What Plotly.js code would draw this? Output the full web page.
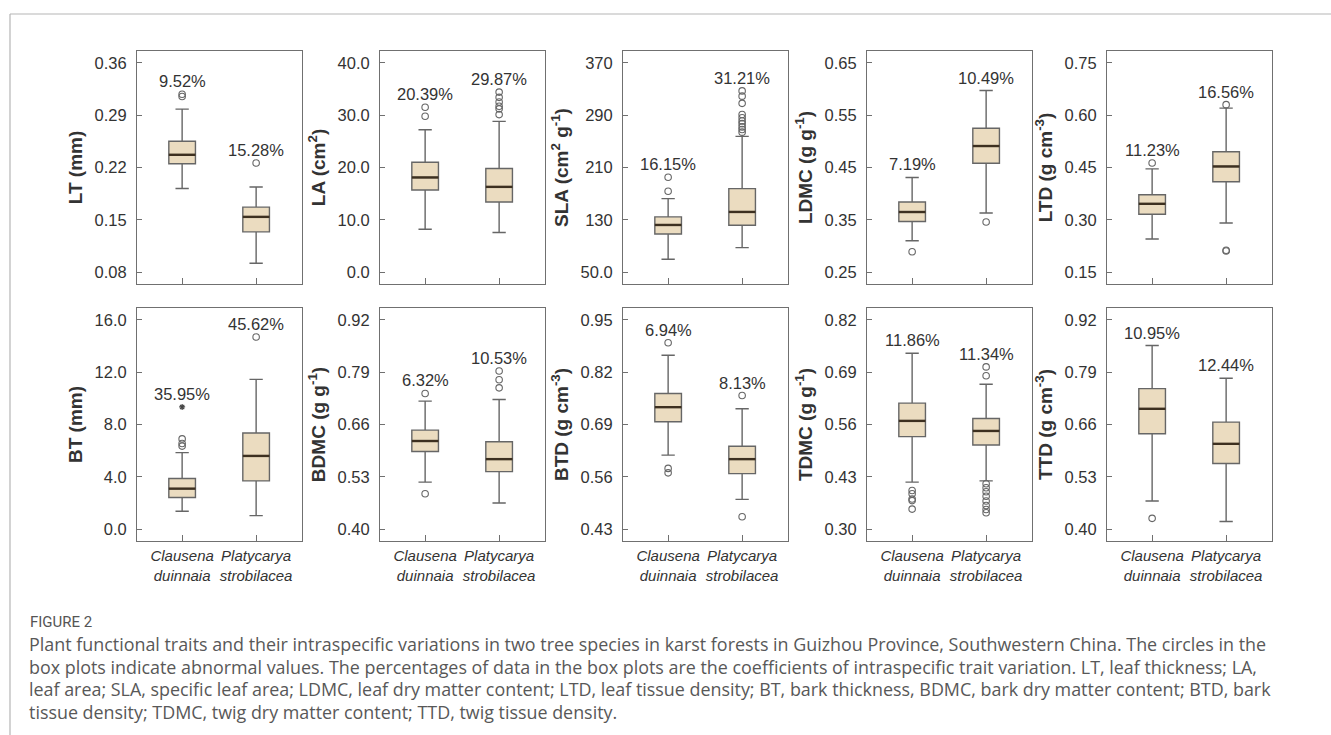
<!DOCTYPE html>
<html><head><meta charset="utf-8">
<script src="https://cdn.plot.ly/plotly-3.0.1.min.js"></script>
<style>html,body{margin:0;padding:0;background:#fff;} #chart{width:1331px;height:735px;}</style>
</head><body><div id="chart"></div>
<script>
// ---------- data ----------
const speciesLabels = ["Clausena<br>duinnaia", "Platycarya<br>strobilacea"];
const traitTitles = ["LT (mm)", "LA (cm<sup>2</sup>)", "SLA (cm<sup>2</sup> g<sup>-1</sup>)", "LDMC (g g<sup>-1</sup>)", "LTD (g cm<sup>-3</sup>)",
                     "BT (mm)", "BDMC (g g<sup>-1</sup>)", "BTD (g cm<sup>-3</sup>)", "TDMC (g g<sup>-1</sup>)", "TTD (g cm<sup>-3</sup>)"];
const yTickVals = [
  [0.08, 0.15, 0.22, 0.29, 0.36],
  [0, 10, 20, 30, 40],
  [50, 130, 210, 290, 370],
  [0.25, 0.35, 0.45, 0.55, 0.65],
  [0.15, 0.30, 0.45, 0.60, 0.75],
  [0, 4, 8, 12, 16],
  [0.40, 0.53, 0.66, 0.79, 0.92],
  [0.43, 0.56, 0.69, 0.82, 0.95],
  [0.30, 0.43, 0.56, 0.69, 0.82],
  [0.40, 0.53, 0.66, 0.79, 0.92]];
const yTickText = [
  ["0.08", "0.15", "0.22", "0.29", "0.36"],
  ["0.0", "10.0", "20.0", "30.0", "40.0"],
  ["50.0", "130", "210", "290", "370"],
  ["0.25", "0.35", "0.45", "0.55", "0.65"],
  ["0.15", "0.30", "0.45", "0.60", "0.75"],
  ["0.0", "4.0", "8.0", "12.0", "16.0"],
  ["0.40", "0.53", "0.66", "0.79", "0.92"],
  ["0.43", "0.56", "0.69", "0.82", "0.95"],
  ["0.30", "0.43", "0.56", "0.69", "0.82"],
  ["0.40", "0.53", "0.66", "0.79", "0.92"]];

// Clausena duinnaia
const cdLowerFence = [0.192, 8.2, 69.8, 0.310, 0.245, 1.37, 0.517, 0.614, 0.417, 0.470];
const cdQ1         = [0.225, 15.7, 108.5, 0.347, 0.316, 2.42, 0.593, 0.697, 0.530, 0.637];
const cdMedian     = [0.237, 18.1, 122.2, 0.365, 0.346, 3.10, 0.619, 0.733, 0.569, 0.699];
const cdQ3         = [0.255, 21.0, 134.5, 0.384, 0.372, 3.87, 0.646, 0.767, 0.613, 0.749];
const cdUpperFence = [0.298, 27.2, 162.4, 0.431, 0.446, 5.85, 0.718, 0.862, 0.737, 0.856];
const cdOutliers = [[0.318, 0.315], [31.5, 29.8], [195, 173.6], [0.289], [0.463], [6.9, 6.55, 6.35],
                    [0.737, 0.488], [0.893, 0.581, 0.570], [0.396, 0.388, 0.375, 0.371, 0.350], [0.427]];
const cdExtremes = [[], [], [], [], [], [9.34], [], [], [], []];
const cdCV = ["9.52%", "20.39%", "16.15%", "7.19%", "11.23%", "35.95%", "6.32%", "6.94%", "11.86%", "10.95%"];

// Platycarya strobilacea
const psLowerFence = [0.092, 7.6, 87.6, 0.363, 0.291, 1.04, 0.465, 0.504, 0.420, 0.419];
const psQ1         = [0.134, 13.4, 121.7, 0.458, 0.409, 3.69, 0.543, 0.568, 0.509, 0.563];
const psMedian     = [0.154, 16.3, 142.1, 0.491, 0.453, 5.60, 0.574, 0.604, 0.544, 0.612];
const psQ3         = [0.167, 19.8, 177.7, 0.525, 0.495, 7.35, 0.617, 0.636, 0.575, 0.666];
const psUpperFence = [0.194, 28.8, 257.6, 0.597, 0.620, 11.45, 0.722, 0.729, 0.660, 0.775];
const psOutliers = [[0.226], [34.4, 33.4, 32.5, 31.7, 31.2, 30.1], [327, 319, 308, 291, 286, 281, 277, 272, 268, 264],
                    [0.346], [0.630, 0.213, 0.211], [14.68], [0.793, 0.771, 0.751], [0.762, 0.461],
                    [0.703, 0.681, 0.413, 0.403, 0.393, 0.382, 0.370, 0.359, 0.349, 0.341], []];
const psExtremes = [[], [], [], [], [], [], [], [], [], []];
const psCV = ["15.28%", "29.87%", "31.21%", "10.49%", "16.56%", "45.62%", "10.53%", "8.13%", "11.34%", "12.44%"];

const captionLabel = "FIGURE 2";
const captionLines = [
  "Plant functional traits and their intraspecific variations in two tree species in karst forests in Guizhou Province, Southwestern China. The circles in the",
  "box plots indicate abnormal values. The percentages of data in the box plots are the coefficients of intraspecific trait variation. LT, leaf thickness; LA,",
  "leaf area; SLA, specific leaf area; LDMC, leaf dry matter content; LTD, leaf tissue density; BT, bark thickness, BDMC, bark dry matter content; BTD, bark",
  "tissue density; TDMC, twig dry matter content; TTD, twig tissue density."];

// ---------- styling / layout ----------
const W = 1331, H = 735;
const FONT = "Liberation Sans, Arial, sans-serif";
const TXT = "#333333";
const FRAME = "#707070";
const BOXLINE = "#666666";
const FILL = "#ebdcc0";
const MEDIAN = "#3d3020";
const colPx = [[137, 302], [380, 545], [623, 788], [867, 1032], [1107, 1272]];
const rowPx = [[51, 284], [308, 541]];
const BOXW = 0.36;
const PADF = 0.225;

const series = [
  {lf: cdLowerFence, q1: cdQ1, med: cdMedian, q3: cdQ3, uf: cdUpperFence, out: cdOutliers, ext: cdExtremes, cv: cdCV},
  {lf: psLowerFence, q1: psQ1, med: psMedian, q3: psQ3, uf: psUpperFence, out: psOutliers, ext: psExtremes, cv: psCV}
];

const traces = [];
const layout = {
  width: W, height: H,
  margin: {l: 0, r: 0, t: 0, b: 0},
  paper_bgcolor: "#ffffff", plot_bgcolor: "#ffffff",
  showlegend: false,
  font: {family: FONT, color: TXT, size: 16},
  annotations: [], shapes: []
};

for (let i = 0; i < 10; i++) {
  const k = i + 1;
  const xa = "x" + (k > 1 ? k : ""), ya = "y" + (k > 1 ? k : "");
  const xl = "xaxis" + (k > 1 ? k : ""), yl = "yaxis" + (k > 1 ? k : "");
  const col = i % 5, row = Math.floor(i / 5);
  const tv = yTickVals[i];
  const step = tv[1] - tv[0];

  layout[xl] = {
    domain: [colPx[col][0] / W, colPx[col][1] / W],
    anchor: ya, range: [-0.61, 1.62], fixedrange: true,
    showline: true, mirror: true, linecolor: FRAME, linewidth: 1,
    showgrid: false, zeroline: false,
    tickmode: "array", tickvals: [0, 1], ticktext: speciesLabels,
    ticks: "inside", ticklen: 6, tickcolor: FRAME,
    showticklabels: row === 1, tickangle: 0,
    tickfont: {family: FONT, size: 15, color: TXT, style: "italic"},
    ticklabelstandoff: 1
  };
  layout[yl] = {
    domain: [1 - rowPx[row][1] / H, 1 - rowPx[row][0] / H],
    anchor: xa, range: [tv[0] - PADF * step, tv[4] + PADF * step], fixedrange: true,
    showline: true, mirror: true, linecolor: FRAME, linewidth: 1,
    showgrid: false, zeroline: false,
    tickmode: "array", tickvals: tv, ticktext: yTickText[i],
    ticks: "inside", ticklen: 5, tickcolor: FRAME,
    tickfont: {family: FONT, size: 16.5, color: TXT},
    ticklabelstandoff: 6,
    automargin: true,
    title: {text: "<b>" + traitTitles[i] + "</b>", font: {family: FONT, size: 19, color: TXT}, standoff: 6}
  };

  series.forEach((s, j) => {
    traces.push({
      type: "box", xaxis: xa, yaxis: ya, x: [j],
      q1: [s.q1[i]], median: [s.med[i]], q3: [s.q3[i]],
      lowerfence: [s.lf[i]], upperfence: [s.uf[i]],
      width: BOXW, whiskerwidth: 0.5, boxpoints: false,
      fillcolor: FILL, line: {color: BOXLINE, width: 1.4},
      hoverinfo: "skip"
    });
    traces.push({
      type: "scatter", mode: "lines", xaxis: xa, yaxis: ya,
      x: [j - BOXW / 2, j + BOXW / 2], y: [s.med[i], s.med[i]],
      line: {color: MEDIAN, width: 2.4}, hoverinfo: "skip"
    });
    if (s.out[i].length) {
      traces.push({
        type: "scatter", mode: "markers", xaxis: xa, yaxis: ya,
        x: s.out[i].map(() => j), y: s.out[i],
        marker: {symbol: "circle-open", size: 6.5, color: "#666666", line: {width: 1.1, color: "#666666"}},
        hoverinfo: "skip"
      });
    }
    if (s.ext[i].length) {
      traces.push({
        type: "scatter", mode: "markers", xaxis: xa, yaxis: ya,
        x: s.ext[i].map(() => j), y: s.ext[i],
        marker: {symbol: "asterisk-open", size: 5, color: "#444", line: {width: 1.2, color: "#444"}},
        hoverinfo: "skip"
      });
    }
    const top = Math.max(s.uf[i], ...s.out[i], ...s.ext[i]);
    layout.annotations.push({
      xref: xa, yref: ya, x: j, y: top, yanchor: "bottom", xanchor: "center",
      yshift: 2, showarrow: false, text: s.cv[i],
      font: {family: FONT, size: 16.5, color: TXT}
    });
  });
}

// caption
layout.annotations.push({
  xref: "paper", yref: "paper", x: 28 / W, y: 1 - 622 / H, xanchor: "left", yanchor: "middle",
  showarrow: false, text: captionLabel, font: {family: "Roboto, sans-serif", size: 15, color: "#555555"}
});
captionLines.forEach((t, n) => {
  layout.annotations.push({
    xref: "paper", yref: "paper", x: 27 / W, y: 1 - (644 + n * 22.7) / H, xanchor: "left", yanchor: "middle",
    showarrow: false, text: t, font: {family: "Open Sans, sans-serif", size: 17.9, color: "#585858"}
  });
});

// card frame lines
layout.shapes.push({type: "line", xref: "paper", yref: "paper", x0: 10 / W, x1: 1, y0: 1 - 14 / H, y1: 1 - 14 / H,
                    line: {color: "#b5b5b5", width: 1.2}});
layout.shapes.push({type: "line", xref: "paper", yref: "paper", x0: 10 / W, x1: 10 / W, y0: 0, y1: 1 - 14 / H,
                    line: {color: "#b5b5b5", width: 1.2}});

Plotly.newPlot("chart", traces, layout, {displayModeBar: false, staticPlot: true});
</script>
</body></html>
